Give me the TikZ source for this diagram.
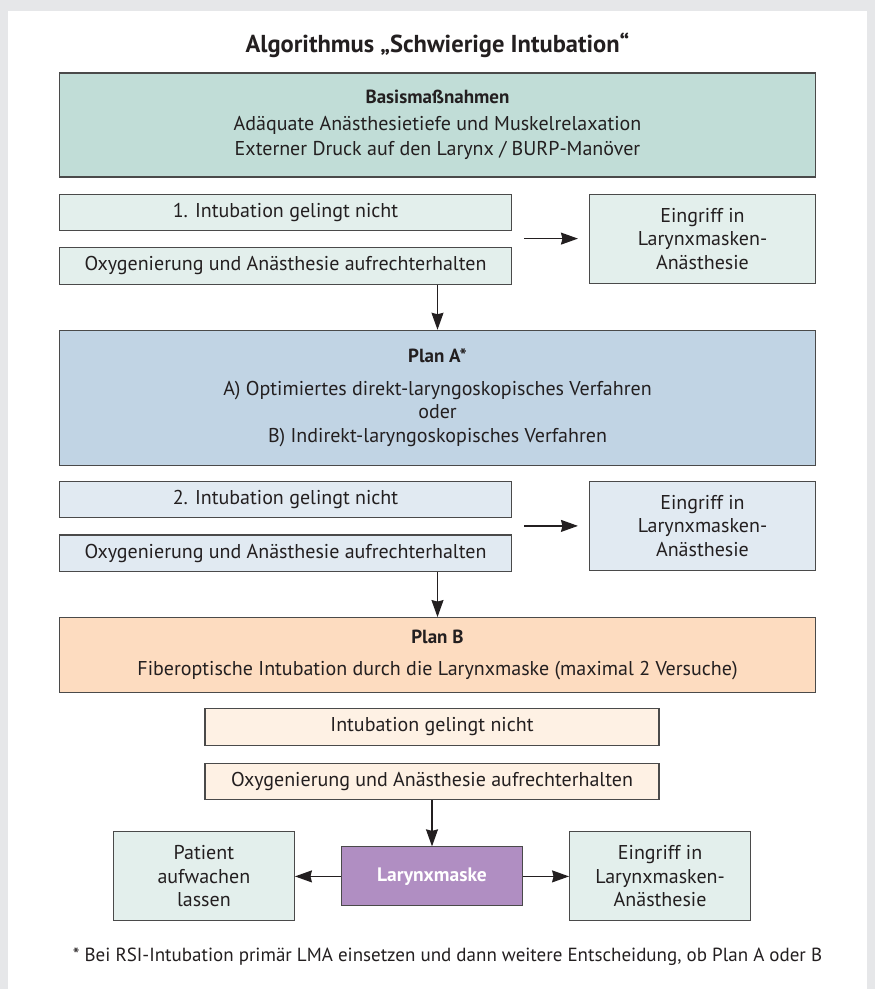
\documentclass[tikz,border=0pt]{standalone}
\usepackage{fontspec}
\setmainfont{PT Sans}
\usepackage{xcolor}
\usetikzlibrary{arrows.meta, positioning, calc}

\definecolor{bggray}{HTML}{E6E7E9}
\definecolor{boxline}{HTML}{4A4A4A}
\definecolor{textdark}{HTML}{231F20}
\definecolor{basisgreen}{HTML}{C1DDD7}
\definecolor{lightgreen}{HTML}{E3EFEC}
\definecolor{planblue}{HTML}{C1D4E4}
\definecolor{lightblue}{HTML}{E1EAF2}
\definecolor{planpeach}{HTML}{FDDCC0}
\definecolor{lightpeach}{HTML}{FEF1E4}
\definecolor{maskpurple}{HTML}{B08EC2}

\begin{document}
\begin{tikzpicture}[
    x=1pt, y=-1pt,
    -{Stealth[length=17pt, width=12pt, inset=1.5pt]}, line width=1.2pt, draw=textdark,
    node distance=16pt,
    box/.style={rectangle, draw=boxline, line width=1.1pt, align=center,
                inner sep=0pt, text=textdark,
                font=\fontsize{20}{23.5}\selectfont},
    plan/.style={box, minimum width=756pt},
    fail/.style={box, minimum width=452pt, minimum height=36.5pt},
    side/.style={box, minimum width=226pt, minimum height=89pt},
    small/.style={box, minimum width=181pt, minimum height=89pt, fill=lightgreen}
]
    \useasboundingbox (0,0) rectangle (875,989);
    \fill[bggray] (0,0) rectangle (875,989);
    \fill[white] (8,11) rectangle (867,989);

    \node[text=textdark, font=\bfseries\fontsize{24.5}{28}\selectfont] (title) at (437.5,45)
        {Algorithmus „Schwierige Intubation“};

    % Basismassnahmen
    \node[plan, fill=basisgreen, minimum height=104pt] (basis) at (437.5,125)
        {{\bfseries\fontsize{19}{23.5}\selectfont Basismaßnahmen}\\[3pt]
         Adäquate Anästhesietiefe und Muskelrelaxation\\[2pt]
         Externer Druck auf den Larynx / BURP-Manöver};
    \node[fail, fill=lightgreen, below right=16pt and 0pt of basis.south west] (fail1)
        {1. Intubation gelingt nicht};
    \node[fail, fill=lightgreen, below=16pt of fail1] (oxy1)
        {Oxygenierung und Anästhesie aufrechterhalten};
    \node[side, fill=lightgreen, below left=16pt and 0pt of basis.south east] (lma1)
        {Eingriff in\\ Larynxmasken-\\ Anästhesie};

    % Plan A
    \node[plan, fill=planblue, minimum height=135pt,
          below right=45pt and 0pt of oxy1.south west] (planA)
        {{\bfseries\fontsize{19}{23.5}\selectfont Plan A*}\\[9pt]
         A) Optimiertes direkt-laryngoskopisches Verfahren\\
         oder\\
         B) Indirekt-laryngoskopisches Verfahren};
    \node[fail, fill=lightblue, below right=15pt and 0pt of planA.south west] (fail2)
        {2. Intubation gelingt nicht};
    \node[fail, fill=lightblue, below=16pt of fail2] (oxy2)
        {Oxygenierung und Anästhesie aufrechterhalten};
    \node[side, fill=lightblue, below left=15pt and 0pt of planA.south east] (lma2)
        {Eingriff in\\ Larynxmasken-\\ Anästhesie};

    % Plan B
    \node[plan, fill=planpeach, minimum height=75pt,
          below right=45pt and 0pt of oxy2.south west] (planB)
        {{\bfseries\fontsize{19}{23.5}\selectfont Plan B}\\[8pt]
         Fiberoptische Intubation durch die Larynxmaske (maximal 2 Versuche)};
    \node[fail, fill=lightpeach, minimum width=454pt,
          below=15pt of planB.south, xshift=-5.5pt] (fail3)
        {Intubation gelingt nicht};
    \node[fail, fill=lightpeach, minimum width=454pt, below=17pt of fail3] (oxy3)
        {Oxygenierung und Anästhesie aufrechterhalten};

    % Larynxmaske
    \node[box, fill=maskpurple, text=white, minimum width=181pt, minimum height=59pt,
          font=\bfseries\fontsize{19.5}{23.5}\selectfont,
          below=46pt of oxy3] (mask) {Larynxmaske};
    \node[small, left=46pt of mask] (wake) {Patient\\ aufwachen\\ lassen};
    \node[small, right=46pt of mask] (lma3) {Eingriff in\\ Larynxmasken-\\ Anästhesie};

    \node[text=textdark, font=\fontsize{19}{22}\selectfont] (note) at (447.5,957)
        {* Bei RSI-Intubation primär LMA einsetzen und dann weitere Entscheidung, ob Plan A oder B};

    \draw[shorten <=12pt, shorten >=11pt] (fail1.east |- lma1.west) -- (lma1.west);
    \draw (oxy1.south -| planA.north) -- (planA.north);
    \draw[shorten <=12pt, shorten >=11pt] (fail2.east |- lma2.west) -- (lma2.west);
    \draw (oxy2.south -| planB.north) -- (planB.north);
    \draw (oxy3) -- (mask);
    \draw (mask) -- (wake);
    \draw (mask) -- (lma3);
\end{tikzpicture}
\end{document}
